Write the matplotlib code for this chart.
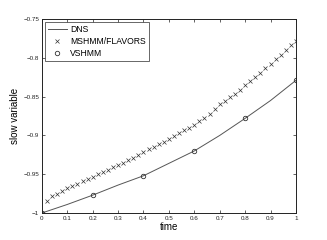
import matplotlib
matplotlib.use("Agg")
import matplotlib.pyplot as plt

dns_t = [0.0, 0.1, 0.2, 0.3, 0.4, 0.5, 0.6, 0.7, 0.8, 0.9, 1.0]
dns_y = [-1.0, -0.989, -0.977, -0.964, -0.952, -0.936, -0.920, -0.900, -0.878, -0.855, -0.829]

ms_t = [round(0.02 * k, 2) for k in range(1, 51)]
ms_y = [-0.985, -0.978, -0.975, -0.971, -0.968, -0.965, -0.962, -0.959, -0.956, -0.953,
        -0.950, -0.947, -0.944, -0.941, -0.938, -0.935, -0.932, -0.929, -0.925, -0.922,
        -0.918, -0.915, -0.911, -0.908, -0.904, -0.901, -0.897, -0.893, -0.890, -0.886,
        -0.882, -0.877, -0.872, -0.866, -0.860, -0.855, -0.850, -0.846, -0.841, -0.835,
        -0.830, -0.825, -0.819, -0.813, -0.808, -0.802, -0.796, -0.790, -0.784, -0.778]

vs_t = [0.0, 0.2, 0.4, 0.6, 0.8, 1.0]
vs_y = [-1.0, -0.977, -0.952, -0.920, -0.878, -0.829]

xticks = [0, 0.1, 0.2, 0.3, 0.4, 0.5, 0.6, 0.7, 0.8, 0.9, 1]
xticklabels = ["0", "0.1", "0.2", "0.3", "0.4", "0.5", "0.6", "0.7", "0.8", "0.9", "1"]
yticks = [-1, -0.95, -0.9, -0.85, -0.8, -0.75]
yticklabels = ["\u22121", "\u22120.95", "\u22120.9", "\u22120.85", "\u22120.8", "\u22120.75"]

plt.rcParams['font.family'] = ['Liberation Sans', 'DejaVu Sans']

fig = plt.figure(figsize=(3.27, 2.40), dpi=100)
ax = fig.add_axes([0.128, 0.1125, 0.777, 0.808])

ax.plot(dns_t, dns_y, '-', color='#555555', lw=0.7, label='DNS')
ax.plot(ms_t, ms_y, 'x', color='#333333', ms=2.3, mew=0.5, linestyle='none', label='MSHMM/FLAVORS')
ax.plot(vs_t, vs_y, 'o', mfc='none', mec='#333333', ms=3.2, mew=0.6, linestyle='none', label='VSHMM')

ax.set_xlim(0, 1)
ax.set_ylim(-1, -0.75)
ax.set_xticks(xticks)
ax.set_xticklabels(xticklabels)
ax.set_yticks(yticks)
ax.set_yticklabels(yticklabels)
ax.tick_params(direction='in', top=True, right=True, length=2.5, width=0.5, labelsize=4.5, pad=2, colors='#222222')
for s in ax.spines.values():
    s.set_linewidth(0.7)
    s.set_color('#222222')

ax.set_xlabel('time', fontsize=7, labelpad=1)
ax.set_ylabel('slow variable', fontsize=7, labelpad=2)

leg = ax.legend(loc='upper left', fontsize=6.2, frameon=True, fancybox=False,
                edgecolor='#222222', borderpad=0.35, labelspacing=0.35, handlelength=2.2,
                handletextpad=0.4, borderaxespad=0.35)
leg.get_frame().set_linewidth(0.6)

fig.savefig('out.png', dpi=100)
